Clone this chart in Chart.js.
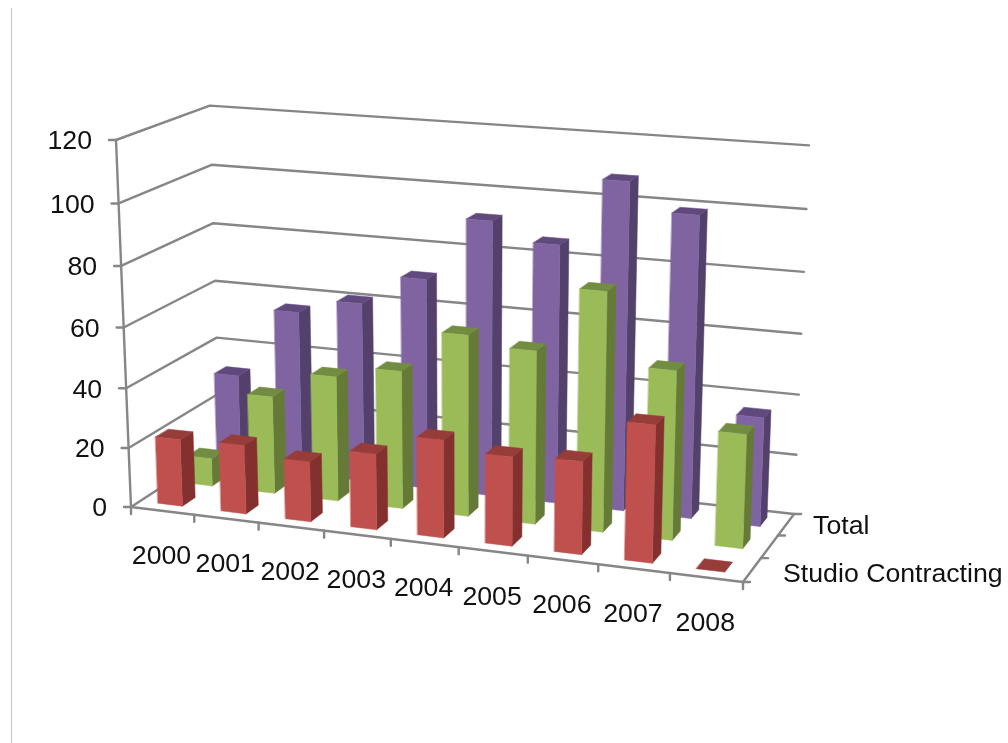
<!DOCTYPE html>
<html>
<head>
<meta charset="utf-8">
<style>
  html, body { margin: 0; padding: 0; background: #fff; overflow: hidden; }
  #wrap { position: relative; width: 1008px; height: 743px; }
  #edge { position: absolute; left: 11px; top: 8px; width: 1px; height: 735px; background: #c4c4c4; }
  canvas { position: absolute; left: 0; top: 0; filter: blur(0.6px); }
</style>
</head>
<body>
<div id="wrap">
  <div id="edge"></div>
  <canvas id="chart" width="1008" height="743"></canvas>
</div>
<script src="https://cdn.jsdelivr.net/npm/chart.js@4"></script>
<script>
const years = ["2000", "2001", "2002", "2003", "2004", "2005", "2006", "2007", "2008"]
const depthLabels = ["Studio Contracting", "", "Total"]
const studioContracting = [22.5, 23, 20, 25, 32, 29, 30, 44, 0]
const middleSeries = [9.5, 33, 42, 46, 60, 57, 78, 55, 37]
const total = [32, 56, 61, 71, 92, 86, 108, 99, 36]

// front, side, top colours per series
const faceColors = [
    ["#c0504d", "#83302e", "#963d3a"],
    ["#9bbb59", "#657a37", "#728c42"],
    ["#8064a2", "#53406b", "#60497c"],
]
const axisColor = "#868686"
const font = "26.7px 'Liberation Sans', Arial, sans-serif"

// camera: where the box corners land on the page, plus perspective per axis
const origin = [131, 507]
const cornerX = [743, 582]
const cornerY = [116, 140]
const cornerZ = [220, 449]
const persp = { x: -0.078, y: -0.043, z: 0.073 }

const barWidth = 0.39   // share of a category
const barShift = -0.02  // bars sit a bit left of the category middle
const barDepth = 0.42   // share of a depth slot

function project(u, v, d){
    const w = 1 + persp.x * u + persp.y * v + persp.z * d
    const out = [0, 1].map(i => {
        const a = cornerX[i] * (1 + persp.x) - origin[i]
        const b = cornerY[i] * (1 + persp.y) - origin[i]
        const c = cornerZ[i] * (1 + persp.z) - origin[i]
        return (origin[i] + a * u + b * v + c * d) / w
    })
    return out
}

function poly(ctx, pts, fill){
    ctx.beginPath()
    pts.forEach((p, i) => i ? ctx.lineTo(p[0], p[1]) : ctx.moveTo(p[0], p[1]))
    ctx.closePath()
    ctx.fillStyle = fill
    ctx.fill()
    // same colour hairline closes the seams between faces
    ctx.strokeStyle = fill
    ctx.lineWidth = 0.5
    ctx.stroke()
}

function line(ctx, a, b){
    ctx.beginPath()
    ctx.moveTo(a[0], a[1])
    ctx.lineTo(b[0], b[1])
    ctx.stroke()
}

const box3d = {
    id: "box3d",
    beforeDatasetsDraw(chart){
        const ctx = chart.ctx
        const { x: xs, y: ys, z: zs } = chart.scales
        const toU = px => (px - xs.left) / (xs.right - xs.left)
        const toV = val => (ys.bottom - ys.getPixelForValue(val)) / (ys.bottom - ys.top)
        const toD = px => (px - zs.left) / (zs.right - zs.left)
        const catW = 1 / years.length
        const slotD = 1 / depthLabels.length

        ctx.save()
        ctx.strokeStyle = axisColor
        ctx.lineWidth = 2.4
        ctx.lineCap = "round"
        ctx.lineJoin = "round"

        // gridlines on the side wall and back wall
        ys.ticks.forEach(t => {
            const v = toV(t.value)
            const a = project(0, v, 0), b = project(0, v, 1), c = project(1, v, 1)
            ctx.beginPath()
            ctx.moveTo(a[0], a[1])
            ctx.lineTo(b[0], b[1])
            ctx.lineTo(c[0], c[1])
            ctx.stroke()
            line(ctx, [a[0] - 7, a[1]], a)
        })
        // axis lines
        line(ctx, project(0, 0, 0), project(0, 1, 0))
        line(ctx, project(0, 0, 0), project(1, 0, 0))
        line(ctx, project(1, 0, 0), project(1, 0, 1))
        for(let i = 0; i <= years.length; i++){
            const p = project(i * catW, 0, 0)
            line(ctx, p, [p[0], p[1] + 7])
        }
        for(let i = 0; i <= depthLabels.length; i++){
            const p = project(1, 0, i * slotD)
            line(ctx, p, [p[0] + 7, p[1]])
        }

        // bars, back series first
        for(let s = chart.data.datasets.length - 1; s >= 0; s--){
            const colors = faceColors[s]
            const dMid = toD(zs.getPixelForValue(s))
            const d0 = dMid - slotD * barDepth / 2
            const d1 = dMid + slotD * barDepth / 2
            chart.data.datasets[s].data.forEach((val, i) => {
                const uMid = toU(xs.getPixelForValue(i)) + barShift * catW
                const u0 = uMid - catW * barWidth / 2
                const u1 = uMid + catW * barWidth / 2
                const v0 = toV(0), v1 = toV(val)
                poly(ctx, [project(u1, v0, d0), project(u1, v0, d1), project(u1, v1, d1), project(u1, v1, d0)], colors[1])
                poly(ctx, [project(u0, v1, d0), project(u1, v1, d0), project(u1, v1, d1), project(u0, v1, d1)], colors[2])
                if(val > 0) poly(ctx, [project(u0, v0, d0), project(u1, v0, d0), project(u1, v1, d0), project(u0, v1, d0)], colors[0])
            })
        }

        // text
        ctx.fillStyle = "#111"
        ctx.font = font
        ctx.textBaseline = "middle"
        ctx.textAlign = "right"
        ys.ticks.forEach(t => {
            const p = project(0, toV(t.value), 0)
            ctx.fillText(String(t.value), p[0] - 24, p[1] + 2)
        })
        ctx.textAlign = "center"
        years.forEach((y, i) => {
            const p = project(toU(xs.getPixelForValue(i)), 0, 0)
            ctx.fillText(y, p[0] - 1, p[1] + 46)
        })
        ctx.textAlign = "left"
        depthLabels.forEach((name, i) => {
            if(!name) return
            const d = toD(zs.getPixelForValue(i))
            const p = project(1, 0, d)
            ctx.fillText(name, p[0] + 32 - 6 * d, p[1] + 5.75 - 4.5 * d)
        })
        ctx.restore()
        return false
    }
}

new Chart(document.getElementById("chart"), {
    type: "bar",
    data: {
        labels: years,
        datasets: [
            { label: depthLabels[0], data: studioContracting, backgroundColor: faceColors[0][0] },
            { label: depthLabels[1], data: middleSeries, backgroundColor: faceColors[1][0] },
            { label: depthLabels[2], data: total, backgroundColor: faceColors[2][0] },
        ]
    },
    options: {
        responsive: false,
        animation: false,
        layout: { padding: 0 },
        plugins: { legend: { display: false }, tooltip: { enabled: false } },
        scales: {
            x: { display: false, offset: true },
            y: { display: false, min: 0, max: 120, ticks: { stepSize: 20 } },
            z: { type: "category", axis: "x", labels: depthLabels, display: false, offset: true },
        }
    },
    plugins: [box3d]
})
</script>
</body>
</html>
